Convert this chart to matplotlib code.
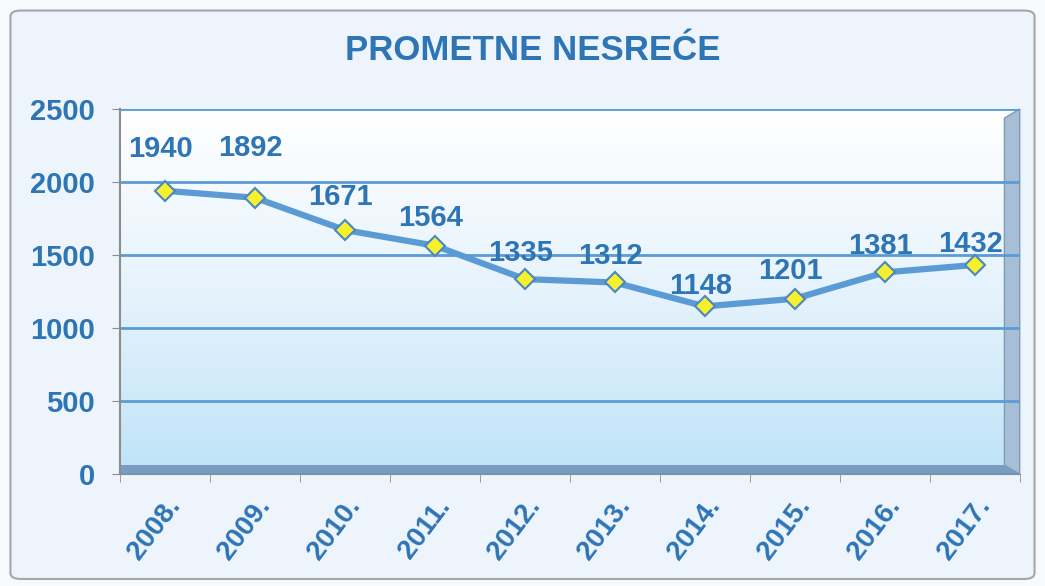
import numpy as np
import matplotlib
matplotlib.use("Agg")
import matplotlib.pyplot as plt
from matplotlib.patches import FancyBboxPatch, Rectangle, Polygon
from matplotlib.colors import LinearSegmentedColormap

# data
years = ["2008.", "2009.", "2010.", "2011.", "2012.",
         "2013.", "2014.", "2015.", "2016.", "2017."]
accidents = [1940, 1892, 1671, 1564, 1335, 1312, 1148, 1201, 1381, 1432]
y_ticks = [0, 500, 1000, 1500, 2000, 2500]

blue_text = "#2e75b6"
line_blue = "#5b9bd5"

plt.rcParams['font.family'] = ['Liberation Sans', 'DejaVu Sans']

fig = plt.figure(figsize=(10.45, 5.86), dpi=100)
fig.patch.set_facecolor("#f7fafd")

# outer chart border
fig.patches.append(FancyBboxPatch((0.010, 0.012), 0.980, 0.970,
                                  boxstyle="round,pad=0,rounding_size=0.01",
                                  transform=fig.transFigure, facecolor="#edf4fb",
                                  edgecolor="#a6a6a6", linewidth=1.5, zorder=-5))

ax = fig.add_axes([0.1148, 0.191, 0.861, 0.623])
ax.patch.set_visible(False)
x = np.arange(len(years))
ax.set_xlim(-0.5, len(years) - 0.5)
ax.set_ylim(0, 2500)

# gradient background of the plot area
grad = np.linspace(0, 1, 256).reshape(-1, 1)
cmap = LinearSegmentedColormap.from_list("wall", ["#bfe3f8", "#e6f3fc", "#ffffff"])
ax.imshow(grad, extent=(-0.5, len(years) - 0.5, 0, 2500), origin="lower",
          aspect="auto", cmap=cmap, zorder=0)

# 3d floor and side wall
ax.add_patch(Rectangle((0, 0), 1, 0.025, transform=ax.transAxes,
                       facecolor="#7a9cc0", edgecolor="none", zorder=1, clip_on=False))
ax.add_patch(Polygon([(0.983, 0.025), (1.0, 0.0), (1.0, 1.0), (0.983, 0.975)],
                     closed=True, transform=ax.transAxes, facecolor="#a7bfd6",
                     edgecolor="#7f9bb8", linewidth=1, zorder=1, clip_on=False))

for t in y_ticks:
    ax.axhline(t, color=line_blue, linewidth=2, zorder=2)

ax.plot(x, accidents, color=line_blue, linewidth=4.5, zorder=3,
        marker="D", markersize=10, markerfacecolor="#f7f02c",
        markeredgecolor="#4a86c5", markeredgewidth=1.5)

label_offsets = [30, 36, 24, 20, 19, 19, 15, 20, 19, 15]
for xi, v, off in zip(x, accidents, label_offsets):
    ax.annotate(str(v), (xi, v), xytext=(-3, off), textcoords="offset points",
                ha="center", va="center", fontsize=21, fontweight="bold",
                color=blue_text, zorder=4)

ax.set_yticks(y_ticks)
ax.set_xticks(x)
ax.set_xticklabels(years, rotation=53, ha="right", rotation_mode="anchor")
ax.set_xticks(np.arange(-0.5, len(years), 1), minor=True)
ax.tick_params(axis="x", which="major", length=0, pad=14)
ax.tick_params(axis="x", which="minor", length=6, color="#8c8c8c")
ax.tick_params(axis="y", length=6, color="#8c8c8c", pad=12)
for lab in ax.get_xticklabels() + ax.get_yticklabels():
    lab.set_fontweight("bold")
    lab.set_color(blue_text)
    lab.set_fontsize(21)
for lab in ax.get_xticklabels():
    lab.set_fontsize(20)

for s in ["top", "right"]:
    ax.spines[s].set_visible(False)
ax.spines["left"].set_color("#8c8c8c")
ax.spines["bottom"].set_color("#8c8c8c")
ax.spines["left"].set_linewidth(1.5)

fig.text(0.51, 0.913, "PROMETNE NESREĆE", ha="center", va="center",
         fontsize=25, fontweight="bold", color=blue_text)

fig.savefig("out.png", dpi=100, facecolor=fig.get_facecolor())
